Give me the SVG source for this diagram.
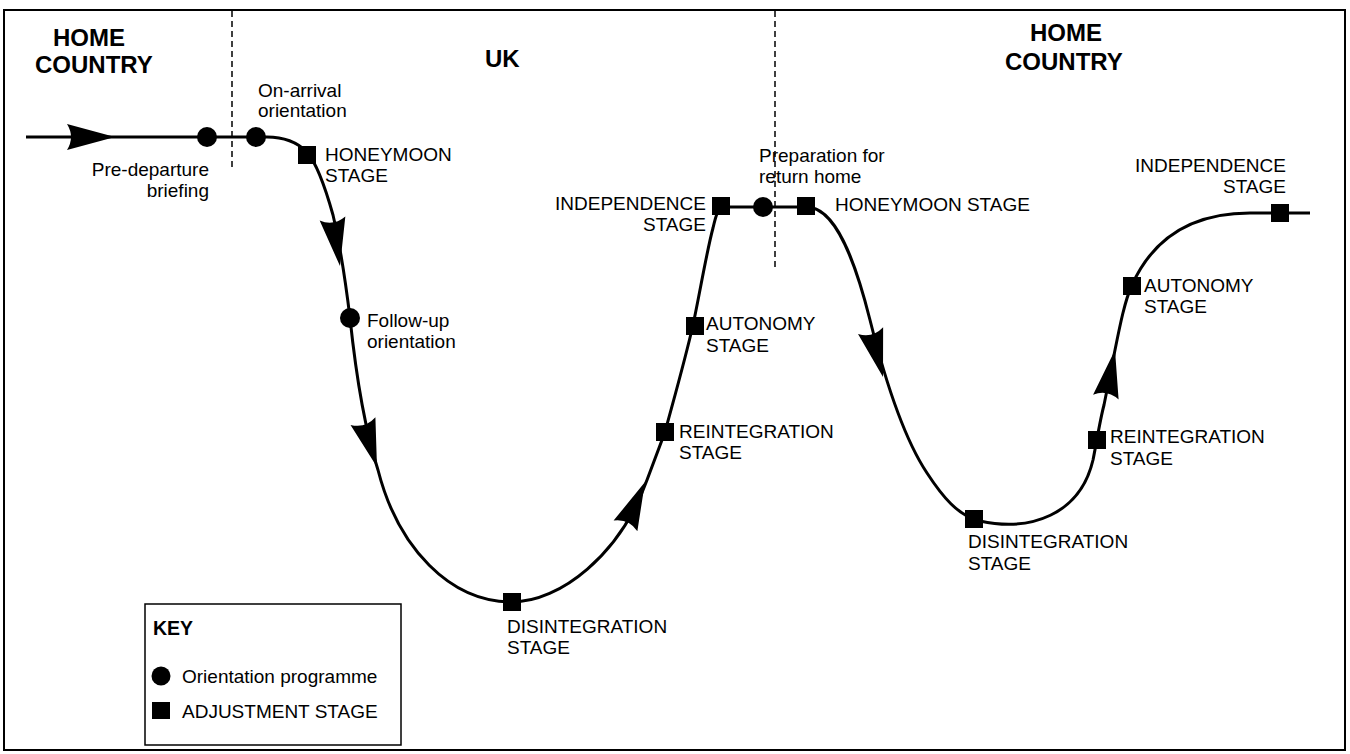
<svg xmlns="http://www.w3.org/2000/svg" width="1350" height="754" viewBox="0 0 1350 754">
<defs>
<style>
.lbl{font-family:"Liberation Sans",Arial,sans-serif;font-size:19px;fill:#000}
.hd{font-family:"Liberation Sans",Arial,sans-serif;font-size:24px;font-weight:bold;fill:#000}
.curve{fill:none;stroke:#000;stroke-width:3}
.dash{fill:none;stroke:#000;stroke-width:1.5;stroke-dasharray:6 4}
.dot{fill:#000}
.sq{fill:#000}
</style>
<path id="ah" d="M0,0 L-48,-13 Q-40,0 -48,13 Z" fill="#000"/>
</defs>
<rect x="0" y="0" width="1350" height="754" fill="#fff"/>
<rect x="4" y="10" width="1341" height="740" fill="none" stroke="#000" stroke-width="2"/>

<g id="regions">
<line class="dash" x1="232" y1="11" x2="232" y2="170"/>
<line class="dash" x1="775" y1="11" x2="775" y2="270"/>
<text class="hd" x="53" y="46">HOME</text>
<text class="hd" x="35" y="73">COUNTRY</text>
<text class="hd" x="485" y="67">UK</text>
<text class="hd" x="1030" y="41">HOME</text>
<text class="hd" x="1005" y="70">COUNTRY</text>
</g>

<g id="connectors">
<path class="curve" d="M26,137 H267 C285,137 298,143 307,152 C318,165 326,190 333,215 C340,245 346,285 350,318 C356,375 365,430 378,470 C398,548 450,602 512,602 C560,602 620,555 647,480 L665,432 C675,395 685,360 693,325 C700,292 707,250 713,228 C716,215 718,207 725,207 H806 C835,206 855,260 870,320 C885,380 905,440 927,473 C942,496 958,516 980,521 C1030,532 1080,515 1093,460 C1097,440 1100,420 1104,405 L1115,350 C1120,325 1125,300 1132,285 C1150,245 1185,213 1250,213 H1310"/>
<use href="#ah" transform="translate(115,137)"/>
<use href="#ah" transform="translate(340,266) rotate(81)"/>
<use href="#ah" transform="translate(377,467) rotate(73)"/>
<use href="#ah" transform="translate(645,482) rotate(-66)"/>
<use href="#ah" transform="translate(883,377) rotate(75)"/>
<use href="#ah" transform="translate(1115,350) rotate(-79)"/>
</g>

<g id="pre-departure">
<circle class="dot" cx="207" cy="137" r="10"/>
<text class="lbl" x="209" y="176" text-anchor="end">Pre-departure</text>
<text class="lbl" x="209" y="197" text-anchor="end">briefing</text>
</g>
<g id="on-arrival">
<circle class="dot" cx="256" cy="137" r="10"/>
<text class="lbl" x="258" y="97">On-arrival</text>
<text class="lbl" x="258" y="117">orientation</text>
</g>
<g id="honeymoon-1">
<rect class="sq" x="298" y="146" width="18" height="18"/>
<text class="lbl" x="325" y="161">HONEYMOON</text>
<text class="lbl" x="325" y="182">STAGE</text>
</g>
<g id="follow-up">
<circle class="dot" cx="350" cy="318" r="10"/>
<text class="lbl" x="367" y="327">Follow-up</text>
<text class="lbl" x="367" y="348">orientation</text>
</g>
<g id="disintegration-1">
<rect class="sq" x="503" y="593" width="18" height="18"/>
<text class="lbl" x="507" y="633">DISINTEGRATION</text>
<text class="lbl" x="507" y="654">STAGE</text>
</g>
<g id="reintegration-1">
<rect class="sq" x="656" y="423" width="18" height="18"/>
<text class="lbl" x="679" y="438">REINTEGRATION</text>
<text class="lbl" x="679" y="459">STAGE</text>
</g>
<g id="autonomy-1">
<rect class="sq" x="686" y="317" width="18" height="18"/>
<text class="lbl" x="706" y="330">AUTONOMY</text>
<text class="lbl" x="706" y="352">STAGE</text>
</g>
<g id="independence-1">
<rect class="sq" x="712" y="197" width="18" height="18"/>
<text class="lbl" x="706" y="210" text-anchor="end">INDEPENDENCE</text>
<text class="lbl" x="706" y="231" text-anchor="end">STAGE</text>
</g>
<g id="preparation">
<circle class="dot" cx="763" cy="207" r="10"/>
<text class="lbl" x="759" y="162">Preparation for</text>
<text class="lbl" x="759" y="183">return home</text>
</g>
<g id="honeymoon-2">
<rect class="sq" x="797" y="197" width="18" height="18"/>
<text class="lbl" x="835" y="211">HONEYMOON STAGE</text>
</g>
<g id="disintegration-2">
<rect class="sq" x="965" y="510" width="18" height="18"/>
<text class="lbl" x="968" y="548">DISINTEGRATION</text>
<text class="lbl" x="968" y="570">STAGE</text>
</g>
<g id="reintegration-2">
<rect class="sq" x="1088" y="431" width="18" height="18"/>
<text class="lbl" x="1110" y="443">REINTEGRATION</text>
<text class="lbl" x="1110" y="465">STAGE</text>
</g>
<g id="autonomy-2">
<rect class="sq" x="1123" y="277" width="18" height="18"/>
<text class="lbl" x="1144" y="292">AUTONOMY</text>
<text class="lbl" x="1144" y="313">STAGE</text>
</g>
<g id="independence-2">
<rect class="sq" x="1271" y="204" width="18" height="18"/>
<text class="lbl" x="1286" y="172" text-anchor="end">INDEPENDENCE</text>
<text class="lbl" x="1286" y="193" text-anchor="end">STAGE</text>
</g>

<g id="key">
<rect x="145" y="604" width="256" height="141" fill="none" stroke="#000" stroke-width="1.5"/>
<text x="153" y="635" font-family="Liberation Sans, Arial, sans-serif" font-size="19.5" font-weight="bold">KEY</text>
<circle class="dot" cx="161" cy="676" r="9.5"/>
<text class="lbl" x="182" y="683">Orientation programme</text>
<rect class="sq" x="152" y="702" width="18" height="17"/>
<text class="lbl" x="182" y="718">ADJUSTMENT STAGE</text>
</g>
</svg>
